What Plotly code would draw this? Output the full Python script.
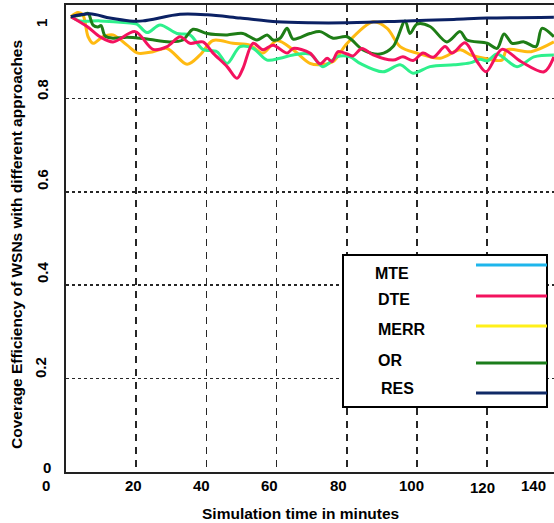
import plotly.graph_objects as go

# ---------------- data ----------------
RES_T = [1.4, 6.8, 12.5, 18.2, 21.9, 32.5, 40.2, 49.6, 60.1, 69.5, 79.8, 97.2, 110.5, 120.0, 139.0]
RES_V = [0.975, 0.981, 0.972, 0.966, 0.966, 0.980, 0.979, 0.972, 0.964, 0.962, 0.962, 0.966, 0.969, 0.972, 0.974]

MTE_T = [1.4, 4.0, 9.7, 17.4, 20.2, 23.1, 26.8, 31.6, 35.3, 39.0, 43.0, 45.9, 49.6, 53.3, 57.3, 61.0, 64.7,
         69.5, 73.2, 77.2, 80.9, 83.8, 90.3, 95.2, 98.9, 103.7, 110.5, 115.1, 118.0, 120.0, 122.8, 128.5, 133.3, 139.0]
MTE_V = [0.975, 0.966, 0.966, 0.962, 0.959, 0.941, 0.957, 0.939, 0.936, 0.905, 0.900, 0.875, 0.911, 0.907, 0.882, 0.886, 0.893,
         0.895, 0.868, 0.889, 0.889, 0.875, 0.857, 0.872, 0.854, 0.868, 0.872, 0.876, 0.884, 0.880, 0.895, 0.868, 0.889, 0.893]

DTE_T = [1.4, 6.0, 9.7, 13.4, 19.7, 24.8, 28.8, 32.5, 35.3, 39.0, 41.9, 45.9, 48.7, 50.4, 53.3, 56.1, 59.0, 63.0, 64.7,
         69.5, 72.4, 74.4, 75.8, 77.5, 80.1, 81.8, 84.3, 87.5, 93.2, 96.0, 98.9, 101.7, 104.6, 108.0, 110.0, 113.7, 117.1,
         119.7, 124.2, 129.6, 136.2, 139.0]
DTE_V = [0.975, 0.954, 0.932, 0.921, 0.943, 0.905, 0.911, 0.932, 0.918, 0.921, 0.897, 0.868, 0.843, 0.864, 0.918, 0.904, 0.914, 0.897, 0.907,
         0.897, 0.874, 0.886, 0.879, 0.900, 0.895, 0.891, 0.907, 0.893, 0.882, 0.889, 0.881, 0.897, 0.888, 0.911, 0.897, 0.919, 0.879,
         0.857, 0.905, 0.879, 0.857, 0.889]

MERR_T = [1.4, 3.4, 4.8, 6.3, 7.7, 10.5, 13.4, 17.4, 20.5, 24.8, 28.8, 34.5, 38.2, 41.9, 47.6, 52.4, 56.1, 60.1, 64.7,
          69.5, 72.4, 76.1, 80.1, 87.5, 91.5, 95.2, 100.0, 106.6, 112.3, 115.4, 119.1, 124.2, 125.6, 132.5, 139.0]
MERR_V = [0.975, 0.984, 0.979, 0.932, 0.918, 0.932, 0.936, 0.914, 0.897, 0.900, 0.907, 0.873, 0.893, 0.924, 0.918, 0.914, 0.897, 0.924, 0.904,
          0.875, 0.872, 0.879, 0.918, 0.964, 0.950, 0.911, 0.897, 0.886, 0.904, 0.893, 0.886, 0.882, 0.904, 0.900, 0.921]

OR_T = [1.4, 4.8, 6.3, 7.7, 9.1, 10.0, 11.1, 13.4, 17.4, 23.1, 29.6, 33.3, 36.2, 40.2, 45.9, 50.4, 54.4, 57.3, 59.0, 61.0,
        63.0, 64.7, 69.5, 72.4, 76.1, 80.1, 84.6, 89.5, 93.2, 96.6, 98.0, 100.0, 103.7, 108.5, 112.3, 114.2, 120.0, 122.8,
        124.8, 127.1, 130.5, 133.9, 135.6, 139.0]
OR_V = [0.975, 0.979, 0.982, 0.957, 0.953, 0.956, 0.934, 0.929, 0.931, 0.927, 0.921, 0.925, 0.948, 0.939, 0.936, 0.939, 0.925, 0.936, 0.925, 0.929,
        0.950, 0.927, 0.939, 0.943, 0.929, 0.932, 0.904, 0.895, 0.911, 0.966, 0.939, 0.959, 0.954, 0.921, 0.943, 0.925, 0.918, 0.907,
        0.938, 0.918, 0.921, 0.911, 0.950, 0.932]

LEGEND_NAMES = ["MTE", "DTE", "MERR", "OR", "RES"]
X_TICK_VALUES = [0, 20, 40, 60, 80, 100, 120, 140]
X_TICK_LABELS = ["0", "20", "40", "60", "80", "100", "120", "140"]
Y_TICK_VALUES = [1.0, 0.8, 0.6, 0.4, 0.2, 0.0]
Y_TICK_LABELS = ["1", "0.8", "0.6", "0.4", "0.2", "0"]
X_TITLE = "Simulation time in minutes"
Y_TITLE = "Coverage Efficiency of WSNs with different approaches"

# ---------------- styling ----------------
W, H = 554, 523
ML, MR, MT, MB = 66, 0, 5, 51
PW, PH = W - ML - MR, H - MT - MB
FONT = "Liberation Sans, Arial, sans-serif"

LINE_COLORS = {"MTE": "#2EF08C", "DTE": "#F3125E", "MERR": "#FFBA12", "OR": "#1E7D16", "RES": "#0B2164"}
LEG_COLORS = {"MTE": "#1EB6EC", "DTE": "#F3125E", "MERR": "#FFF01A", "OR": "#1B7D1B", "RES": "#102A66"}


def px(xp):
    return (xp - ML) / PW


def py(yp):
    return (H - MB - yp) / PH


series = {"MTE": (MTE_T, MTE_V), "DTE": (DTE_T, DTE_V), "MERR": (MERR_T, MERR_V),
          "OR": (OR_T, OR_V), "RES": (RES_T, RES_V)}
draw_order = ["MERR", "MTE", "OR", "DTE", "RES"]

fig = go.Figure()
for name in draw_order:
    t, v = series[name]
    fig.add_trace(go.Scatter(x=t, y=v, mode="lines", name=name,
                             line=dict(color=LINE_COLORS[name], width=3, shape="spline", smoothing=0.9),
                             showlegend=False, hoverinfo="skip"))

x_max = PW / 3.51
fig.update_layout(
    width=W, height=H,
    margin=dict(l=ML, r=MR, t=MT, b=MB, pad=0),
    paper_bgcolor="white", plot_bgcolor="white",
    xaxis=dict(range=[0, x_max], tickvals=X_TICK_VALUES[1:], showticklabels=False,
               showgrid=True, gridcolor="#262626", gridwidth=1.7, griddash="7px,6px",
               showline=True, linecolor="#222222", linewidth=1.6, mirror=True,
               zeroline=False, ticks=""),
    yaxis=dict(range=[0, 1], tickvals=[0.2, 0.4, 0.6, 0.8], showticklabels=False,
               showgrid=True, gridcolor="#262626", gridwidth=1.7, griddash="3px,3px",
               showline=True, linecolor="#222222", linewidth=1.6, mirror=False,
               zeroline=False, ticks=""),
    font=dict(family=FONT, color="black"),
    hovermode=False,
)

anns = []
# x tick labels (placed on the x scale, with small pixel offsets as in the original)
x_shift = [-20, -3, -5, -7, -8, -6, -5, -24]
y_pos = [485, 485, 485, 485, 485, 485, 487, 485]
for val, lab, dx, yp in zip(X_TICK_VALUES, X_TICK_LABELS, x_shift, y_pos):
    anns.append(dict(x=val / x_max, xref="paper", y=py(yp), yref="paper", text="<b>%s</b>" % lab,
                     showarrow=False, xanchor="center", yanchor="middle", xshift=dx,
                     font=dict(size=15, family=FONT, color="black")))
# y tick labels
y_lab_px = [(42, 23, -90), (42, 90, -90), (42, 180, -90), (42, 272, -90), (40, 368, -90), (47, 467, 0)]
for lab, (xp, yp, ang) in zip(Y_TICK_LABELS, y_lab_px):
    anns.append(dict(x=px(xp), xref="paper", y=py(yp), yref="paper", text="<b>%s</b>" % lab,
                     showarrow=False, xanchor="center", yanchor="middle", textangle=ang,
                     font=dict(size=15, family=FONT, color="black")))
# axis titles
anns.append(dict(x=px(300), xref="paper", y=py(513), yref="paper", text="<b>%s</b>" % X_TITLE,
                 showarrow=False, xanchor="center", yanchor="middle",
                 font=dict(size=15.5, family=FONT, color="black")))
anns.append(dict(x=px(16), xref="paper", y=py(245), yref="paper", text="<b>%s</b>" % Y_TITLE,
                 showarrow=False, xanchor="center", yanchor="middle", textangle=-90,
                 font=dict(size=15.5, family=FONT, color="black")))

# legend box
shapes = [dict(type="rect", xref="paper", yref="paper", x0=px(343), x1=px(547), y0=py(407), y1=py(255),
               line=dict(color="black", width=2), fillcolor="white", layer="above")]
leg_text = [(373, 273), (376, 299), (376, 329), (376, 360), (379, 388)]
leg_line = [265, 296, 326, 363, 393]
for name, (tx, ty), ly in zip(LEGEND_NAMES, leg_text, leg_line):
    anns.append(dict(x=px(tx), xref="paper", y=py(ty), yref="paper", text="<b>%s</b>" % name,
                     showarrow=False, xanchor="left", yanchor="middle",
                     font=dict(size=16, family=FONT, color="black")))
    shapes.append(dict(type="line", xref="paper", yref="paper", x0=px(476), x1=px(547), y0=py(ly), y1=py(ly),
                       line=dict(color=LEG_COLORS[name], width=3), layer="above"))

fig.update_layout(annotations=anns, shapes=shapes)
fig.write_html("out.html", config={"displayModeBar": False, "staticPlot": True},
               post_script="document.body.style.margin='0px';document.body.style.overflow='hidden';")
